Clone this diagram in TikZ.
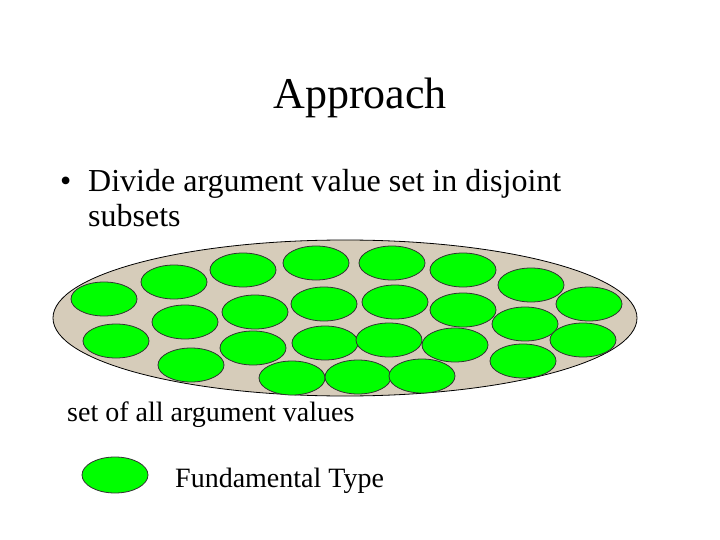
\documentclass[tikz,border=0pt]{standalone}
\usepackage{fontspec}
\setmainfont{Liberation Serif}
\definecolor{tan}{RGB}{214,204,186}
\definecolor{grn}{RGB}{0,255,0}
\begin{document}
\begin{tikzpicture}[x=1pt,y=-1pt,
  sm/.style={draw=black!80,fill=grn,line width=0.8pt},
  txt/.style={anchor=base west,inner sep=0pt}]
\useasboundingbox (0,0) rectangle (720,540);
\node[anchor=base,inner sep=0pt,font=\fontsize{44}{48}\selectfont] (title) at (360,109) {Approach};
\node[txt,font=\fontsize{32}{36}\selectfont] (b1) at (60,192) {•};
\node[txt,font=\fontsize{32}{36}\selectfont] (l1) at (88,192) {Divide argument value set in disjoint};
\node[txt,font=\fontsize{32}{36}\selectfont] (l2) at (88,226) {subsets};
\draw[fill=tan,draw=black,line width=0.8pt] (345,318) ellipse [x radius=292,y radius=78];
\foreach \x/\y in {174/282,243/270,316/263,392/263,463/270,531/285,104/299,589/304,
 185/322,255/312,324/304,395/302,463/310,525/324,116/341,583/340,
 191/365,253/348,325/343,389/340,455/345,523/361,292/378,358/377,422/376}
  \draw[sm] (\x,\y) ellipse [x radius=33,y radius=17];
\node[txt,font=\fontsize{28}{32}\selectfont] (lab) at (67,421) {set of all argument values};
\draw[sm] (115,475) ellipse [x radius=33,y radius=18];
\node[txt,font=\fontsize{28}{32}\selectfont] (ft) at (175,487) {Fundamental Type};
\end{tikzpicture}
\end{document}
